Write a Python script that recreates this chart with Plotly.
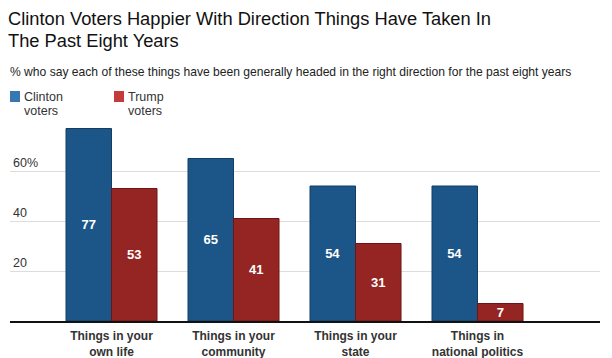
import plotly.graph_objects as go

categories = ["Things in your<br>own life", "Things in your<br>community",
              "Things in your<br>state", "Things in<br>national politics"]
clinton = [77, 65, 54, 54]
trump = [53, 41, 31, 7]
series_names = ["Clinton<br>voters", "Trump<br>voters"]
tick_vals = [20, 40, 60]
tick_text = ["20", "40", "60%"]
title_lines = ["Clinton Voters Happier With Direction Things Have Taken In", "The Past Eight Years"]
subtitle = "% who say each of these things have been generally headed in the right direction for the past eight years"

bar_colors = ["#1c5587", "#952522"]
line_colors = ["#123e66", "#6c1614"]
legend_colors = ["#3878b2", "#c43c3a"]

W, H = 612, 358
ml, mr, mt, mb = 10, 12, 120, 37
pw = W - ml - mr
ph = H - mt - mb
def px_x(p): return (p - ml) / pw
def px_y(p): return (H - mb - p) / ph

fig = go.Figure()
for vals, name, c, lc in zip([clinton, trump], series_names, bar_colors, line_colors):
    fig.add_trace(go.Bar(
        x=list(range(len(categories))), y=vals, name=name,
        marker=dict(color=c, line=dict(color=lc, width=1)),
        text=[str(v) for v in vals], textposition="inside",
        insidetextanchor="middle", textangle=0, constraintext="none",
        insidetextfont=dict(color="white", size=13, family="Liberation Sans, Arial", weight="bold"),
        showlegend=False, hoverinfo="skip",
    ))

fig.update_layout(
    width=W, height=H,
    margin=dict(l=ml, r=mr, t=mt, b=mb, autoexpand=False),
    paper_bgcolor="white", plot_bgcolor="white",
    barmode="group", bargap=0.254, bargroupgap=0,
    font=dict(family="Liberation Sans, Arial, sans-serif", color="#222"),
    xaxis=dict(tickvals=list(range(len(categories))),
               ticktext=["<b>" + c + "</b>" for c in categories],
               range=[-0.832, 4.004], showgrid=False, zeroline=False,
               showline=True, linecolor="#111", linewidth=2,
               ticks="", ticklabelstandoff=3,
               tickfont=dict(size=12, color="#333"), automargin=False),
    yaxis=dict(range=[0, 80.4], tickvals=tick_vals, ticktext=tick_text,
               showgrid=True, gridcolor="#dddddd", gridwidth=1,
               zeroline=False, showline=False, ticks="",
               ticklabelposition="inside top", ticklabelshift=0,
               tickfont=dict(size=12.5, color="#333"), automargin=False),
)

# title
for i, (t, yc) in enumerate(zip(title_lines, [18, 41])):
    fig.add_annotation(text=t, xref="paper", yref="paper", x=px_x(6), y=px_y(yc),
                       xanchor="left", yanchor="middle", showarrow=False,
                       font=dict(size=18.3, color="#111", family="Liberation Sans, Arial"))

# subtitle
fig.add_annotation(text=subtitle, xref="paper", yref="paper", x=px_x(8), y=px_y(72),
                   xanchor="left", yanchor="middle", showarrow=False,
                   font=dict(size=12.1, color="#222"))

# legend
legend_x = [10, 114]
for lx, name, c in zip(legend_x, series_names, legend_colors):
    fig.add_shape(type="rect", xref="paper", yref="paper",
                  x0=px_x(lx), x1=px_x(lx + 10), y0=px_y(102), y1=px_y(91),
                  fillcolor=c, line=dict(width=0))
    for j, part in enumerate(name.split("<br>")):
        fig.add_annotation(text=part, xref="paper", yref="paper",
                           x=px_x(lx + 12), y=px_y(97 + 14 * j), xanchor="left", yanchor="middle",
                           showarrow=False, font=dict(size=12.5, color="#333"))

fig.write_html("out.html", config={"displayModeBar": False},
               post_script="document.body.style.margin='0';document.body.style.overflow='hidden';")
